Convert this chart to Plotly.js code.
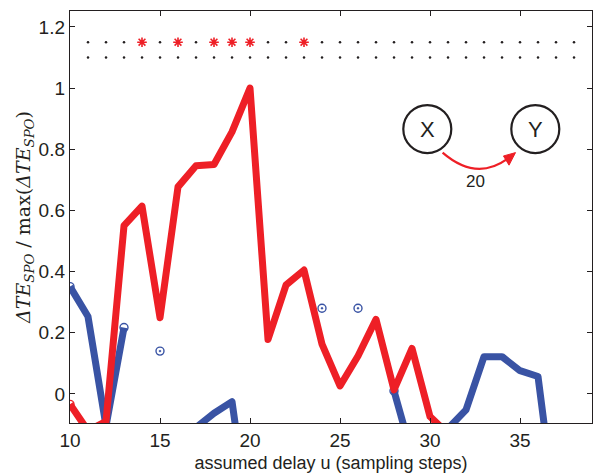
<!DOCTYPE html>
<html>
<head>
<meta charset="utf-8">
<script src="https://cdn.plot.ly/plotly-3.0.1.min.js"></script>
<style>
html,body{margin:0;padding:0;background:#fff;}
#chart{width:593px;height:476px;}
#chart .scatterlayer .js-line{stroke-linejoin:round !important;}
</style>
</head>
<body>
<div id="chart"></div>
<script>
// assumed delays (sampling steps)
const delays = [10,11,12,13,14,15,16,17,18,19,20,21,22,23,24,25,26,27,28,29,30,31,32,33,34,35,36,37];
// red series: normalised ΔTE_SPO, true coupling X -> Y
const redValues = [-0.034,-0.12,-0.09,0.55,0.614,0.249,0.677,0.746,0.75,0.857,1.0,0.178,0.356,0.405,0.163,0.026,0.124,0.244,0.013,0.149,-0.074,-0.13,null,null,null,null,null,null];
// blue series: normalised ΔTE_SPO, reverse direction
const blueValues = [0.351,0.253,-0.105,0.217,null,0.14,null,-0.11,-0.063,-0.025,-0.44,null,null,null,0.28,null,0.28,null,0.01,-0.2,null,-0.113,-0.052,0.122,0.122,0.076,0.057,-0.4];
// significance rows at the top
const rowDelays = [11,12,13,14,15,16,17,18,19,20,21,22,23,24,25,26,27,28,29,30,31,32,33,34,35,36,37,38];
const sigDelays = [14,16,18,19,20,23];
const rowLevels = [1.15, 1.10];
// axis ticks
const xTicks = [10,15,20,25,30,35];
const yTicks = [0,0.2,0.4,0.6,0.8,1,1.2];
const yTickText = ['0','0.2','0.4','0.6','0.8','1','1.2'];

const RED = '#ee1f26';
const BLUE = '#3953a4';
const INK = '#231f20';

const nonSig = rowDelays.filter(d => sigDelays.indexOf(d) < 0);

// circle markers where a line segment starts/ends or a point stands alone
function ends(vals) {
  const ex = [], ey = [], sym = [];
  vals.forEach((v, i) => {
    if (v === null) return;
    const prev = i > 0 ? vals[i - 1] : null;
    const next = i < vals.length - 1 ? vals[i + 1] : null;
    if (prev === null && next === null) { ex.push(delays[i]); ey.push(v); sym.push('circle-open-dot'); }
    else if (prev === null || next === null) { ex.push(delays[i]); ey.push(v); sym.push('circle-open'); }
  });
  return {x: ex, y: ey, sym: sym};
}
const be = ends(blueValues), re = ends(redValues);

const traces = [
  {x: delays, y: blueValues, type: 'scatter', mode: 'lines', connectgaps: false,
   line: {color: BLUE, width: 7}, hoverinfo: 'skip', showlegend: false},
  {x: be.x, y: be.y, type: 'scatter', mode: 'markers',
   marker: {symbol: be.sym, size: 8, color: BLUE, line: {width: 1.4, color: BLUE}}, hoverinfo: 'skip', showlegend: false},
  {x: delays, y: redValues, type: 'scatter', mode: 'lines', connectgaps: false,
   line: {color: RED, width: 7}, hoverinfo: 'skip', showlegend: false},
  {x: re.x, y: re.y, type: 'scatter', mode: 'markers',
   marker: {symbol: re.sym, size: 8, color: RED, line: {width: 1.4, color: RED}}, hoverinfo: 'skip', showlegend: false},
  {x: nonSig, y: nonSig.map(() => rowLevels[0]), type: 'scatter', mode: 'markers',
   marker: {symbol: 'circle', size: 2.5, color: INK}, hoverinfo: 'skip', showlegend: false},
  {x: sigDelays, y: sigDelays.map(() => rowLevels[0]), type: 'scatter', mode: 'markers',
   marker: {symbol: 'asterisk-open', size: 8, color: RED, line: {width: 1.6, color: RED}}, hoverinfo: 'skip', showlegend: false},
  {x: rowDelays, y: rowDelays.map(() => rowLevels[1]), type: 'scatter', mode: 'markers',
   marker: {symbol: 'circle', size: 2.5, color: INK}, hoverinfo: 'skip', showlegend: false}
];

const layout = {
  width: 593, height: 476,
  margin: {l: 70, r: 1, t: 11, b: 53},
  paper_bgcolor: '#fff', plot_bgcolor: '#fff',
  font: {family: 'Liberation Sans, Arial, sans-serif', color: INK},
  xaxis: {
    range: [10, 39], tickvals: xTicks, ticks: 'inside', ticklen: 5, tickwidth: 1, tickcolor: INK,
    showline: true, linecolor: INK, linewidth: 1.2, mirror: 'ticks', showgrid: false, zeroline: false,
    tickfont: {size: 19, color: INK},
    title: {text: 'assumed delay u (sampling steps)', font: {size: 18, color: INK}, standoff: 6}
  },
  yaxis: {
    range: [-0.095, 1.252], tickvals: yTicks, ticktext: yTickText, ticks: 'inside', ticklen: 5, tickwidth: 1, tickcolor: INK,
    showline: true, linecolor: INK, linewidth: 1.2, mirror: 'ticks', showgrid: false, zeroline: false,
    tickfont: {size: 19, color: INK},
    title: {text: '<i>ΔTE<sub>SPO</sub></i> / max(<i>ΔTE<sub>SPO</sub></i>)', font: {size: 19, color: INK, family: 'DejaVu Serif, Liberation Serif, serif'}, standoff: 3}
  },
  shapes: [
    {type: 'circle', xref: 'x', yref: 'y', xsizemode: 'pixel', ysizemode: 'pixel', xanchor: 29.85, yanchor: 0.866,
     x0: -24, x1: 24, y0: -24, y1: 24, line: {color: INK, width: 2.2}},
    {type: 'circle', xref: 'x', yref: 'y', xsizemode: 'pixel', ysizemode: 'pixel', xanchor: 35.85, yanchor: 0.866,
     x0: -24, x1: 24, y0: -24, y1: 24, line: {color: INK, width: 2.2}},
    {type: 'path', xref: 'x', yref: 'y', path: 'M30.70,0.789 Q32.55,0.695 34.28,0.768', line: {color: RED, width: 2.2}},
    {type: 'path', xref: 'x', yref: 'y', path: 'M34.75,0.789 L34.08,0.778 L34.39,0.748 Z', line: {color: RED, width: 1}, fillcolor: RED}
  ],
  annotations: [
    {xref: 'x', yref: 'y', x: 29.85, y: 0.866, text: 'X', showarrow: false, font: {size: 22, color: INK}},
    {xref: 'x', yref: 'y', x: 35.85, y: 0.866, text: 'Y', showarrow: false, font: {size: 22, color: INK}},
    {xref: 'x', yref: 'y', x: 32.54, y: 0.694, text: '20', showarrow: false, font: {size: 17, color: INK}}
  ]
};

Plotly.newPlot('chart', traces, layout, {staticPlot: true, displayModeBar: false}).then(function (gd) {
  gd.querySelectorAll('.scatterlayer path.js-line').forEach(function (p) {
    p.style.strokeLinejoin = 'round';
  });
});
</script>
</body>
</html>
